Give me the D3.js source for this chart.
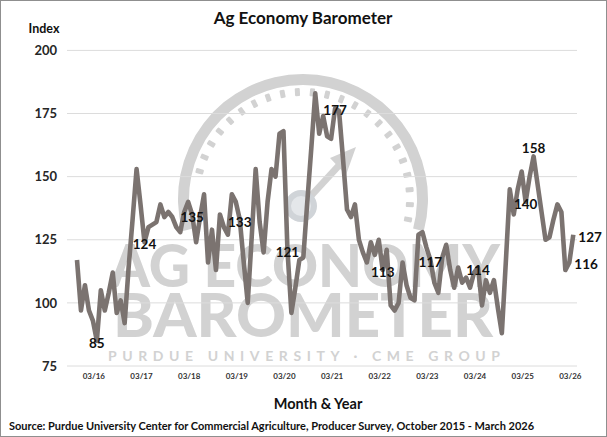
<!DOCTYPE html>
<html><head><meta charset="utf-8">
<script src="https://cdn.jsdelivr.net/npm/d3@7"></script>
<style>
body{margin:0;background:#fff}
svg{display:block}
text{font-family:Lato,"Open Sans",sans-serif}
</style>
</head><body>
<svg id="c" width="607" height="437"></svg>
<script>
// Monthly index values, October 2015 .. March 2026
const values = [
 117, 97,107,                                            // 2015 Oct-Dec
  97, 93, 85,105, 97,104,112, 96,101, 92,114,133,        // 2016
 153,139,124,130,131,132,139,134,136,134,130,128,        // 2017
 136,140,135,124,134,143,116,129,113,135,130,127,        // 2018
 143,140,133,116,100,126,153,132,120,140,153,150,        // 2019
 167,168,121, 96,106,117,118,140,161,183,167,174,        // 2020
 166,165,177,176,157,137,134,139,125,120,116,124,        // 2021
 119,125,113,121, 99, 97,100,116,107,102,101,127,        // 2022
 128,122,117,108,104,118,123,113,106,114,108,110,        // 2023
 106,112,114, 99,109,104,109, 98, 88,116,145,135,        // 2024
 145,152,140,150,158,147,136,125,126,133,139,136,        // 2025
 113,116,127                                             // 2026 Jan-Mar
];
const yTicks = [75,100,125,150,175,200];
const xTickIdx = [5,17,29,41,53,65,77,89,101,113,125];
const xTickLabels = ["03/16","03/17","03/18","03/19","03/20","03/21","03/22","03/23","03/24","03/25","03/26"];
const labelIdx = [5,17,29,41,53,65,77,89,101,113,115,124,125];

const svg = d3.select("#c");
svg.append("rect").attr("x",0.5).attr("y",0.5).attr("width",606).attr("height",436)
  .attr("fill","#fff").attr("stroke","#8f8f8f");

const x = d3.scaleLinear().domain([0, values.length-1]).range([77, 573.3]);
const y = d3.scaleLinear().domain([75, 200]).range([366, 50.4]);

// ---- watermark logo ----
const wm = svg.append("g");
const gcx = 303, gcy = 199;
const wmc = "#d2d2d2";
wm.append("path").attr("transform",`translate(${gcx},${gcy})`)
  .attr("fill",wmc)
  .attr("d", d3.arc()({innerRadius:114, outerRadius:125, startAngle:-105*Math.PI/180, endAngle:105*Math.PI/180}));
const dashAngles = d3.range(-75, 106, 8);
wm.selectAll("rect.dash").data(dashAngles).join("rect")
  .attr("class","dash")
  .attr("x",-2.5).attr("y",-111).attr("width",5).attr("height",8).attr("rx",1)
  .attr("fill",wmc)
  .attr("transform", d => `translate(${gcx},${gcy}) rotate(${d})`);
// needle
const hub = [301, 206];
wm.append("line").attr("x1",hub[0]+8).attr("y1",hub[1]-8).attr("x2",343).attr("y2",161)
  .attr("stroke",wmc).attr("stroke-width",7);
wm.append("path").attr("d","M356,147 L330,158 L346,175 Z").attr("fill",wmc);
wm.append("circle").attr("cx",hub[0]).attr("cy",hub[1]).attr("r",13)
  .attr("fill","#e4e7ea").attr("stroke","#d0d4d8").attr("stroke-width",6);
wm.append("text").attr("x",110).attr("y",287).attr("font-family","Roboto")
  .attr("font-weight",900).attr("font-size",59).attr("fill",wmc)
  .attr("textLength",390).attr("lengthAdjust","spacingAndGlyphs").text("AG ECONOMY");
wm.append("text").attr("x",113).attr("y",337).attr("font-family","Roboto")
  .attr("font-weight",900).attr("font-size",61).attr("fill",wmc)
  .attr("textLength",380).attr("lengthAdjust","spacingAndGlyphs").text("BAROMETER");
wm.append("text").attr("x",108).attr("y",361).attr("font-family","Roboto")
  .attr("font-weight",700).attr("font-size",14).attr("fill",wmc)
  .attr("textLength",392).attr("lengthAdjust","spacing").text("PURDUE UNIVERSITY  ·  CME GROUP");

// ---- gridlines ----
svg.append("g").selectAll("line").data(yTicks).join("line")
  .attr("x1",67).attr("x2",577)
  .attr("y1",d=>y(d)).attr("y2",d=>y(d))
  .attr("stroke","#dcdcdc").attr("stroke-width",1);

// ---- y axis ----
const yAxis = svg.append("g").attr("transform","translate(57,0)")
  .call(d3.axisLeft(y).tickValues(yTicks).tickSize(0).tickPadding(0));
yAxis.select(".domain").remove();
yAxis.selectAll("text").attr("font-family","Lato").attr("font-weight",700)
  .attr("font-size",13).attr("fill","#262626");

// ---- x axis ----
const xAxis = svg.append("g").attr("transform","translate(-3.5,373)")
  .call(d3.axisBottom(x).tickValues(xTickIdx).tickFormat((d,i)=>xTickLabels[i]).tickSize(0).tickPadding(0));
xAxis.select(".domain").remove();
xAxis.selectAll("text").attr("font-family","Lato").attr("font-weight",700)
  .attr("font-size",8).attr("fill","#333");

// ---- line ----
const line = d3.line().x((d,i)=>x(i)).y(d=>y(d)).curve(d3.curveLinear);
svg.append("path").datum(values).attr("d",line)
  .attr("fill","none").attr("stroke","#7b7370").attr("stroke-width",4.6)
  .attr("stroke-linejoin","round");

// ---- data labels ----
const lastI = values.length-1;
svg.append("g").selectAll("text").data(labelIdx).join("text")
  .attr("x", i => (i >= lastI-1) ? x(i)+5 : x(i))
  .attr("y", i => i === 115 ? y(values[i])-8 : y(values[i])+2)
  .attr("text-anchor", i => (i >= lastI-1) ? "start" : "middle")
  .attr("dominant-baseline","central")
  .attr("font-family","Lato").attr("font-weight",700).attr("font-size",13.5)
  .attr("fill","#111")
  .text(i => values[i]);

// ---- titles ----
svg.append("text").attr("x",303).attr("y",24).attr("text-anchor","middle")
  .attr("font-weight",700).attr("font-size",17).attr("fill","#111").text("Ag Economy Barometer");
svg.append("text").attr("x",44).attr("y",33).attr("text-anchor","middle")
  .attr("font-weight",700).attr("font-size",12.5).attr("fill","#111").text("Index");
svg.append("text").attr("x",318).attr("y",409).attr("text-anchor","middle")
  .attr("font-weight",700).attr("font-size",14.5).attr("fill","#111").text("Month & Year");
svg.append("text").attr("x",9).attr("y",430)
  .attr("font-weight",700).attr("font-size",11).attr("fill","#111")
  .text("Source: Purdue University Center for Commercial Agriculture, Producer Survey, October 2015 - March 2026");
</script>
</body></html>
